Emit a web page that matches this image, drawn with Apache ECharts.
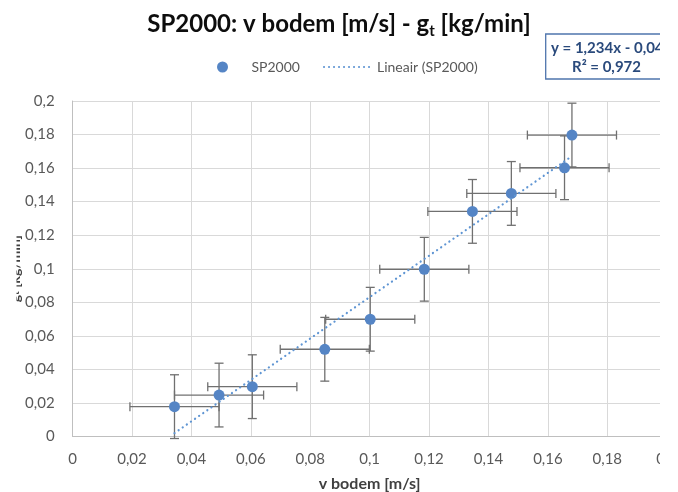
<!DOCTYPE html>
<html>
<head>
<meta charset="utf-8">
<script src="https://cdn.jsdelivr.net/npm/echarts@6/dist/echarts.min.js"></script>
<style>html,body{margin:0;padding:0;background:#fff}#c{width:678px;height:492px}</style>
</head>
<body>
<div id="c"></div>
<script>
// ---- data ----
const seriesName = 'SP2000';
const trendName = 'Lineair (SP2000)';
const xValues = [0.0343, 0.0493, 0.0605, 0.0849, 0.1002, 0.1184, 0.1346, 0.1477, 0.1656, 0.1681];
const yValues = [0.0178, 0.0247, 0.0297, 0.0520, 0.0699, 0.0997, 0.1342, 0.1449, 0.1602, 0.1797];
const xErrors = [0.015, 0.015, 0.015, 0.015, 0.015, 0.015, 0.015, 0.015, 0.015, 0.015];
const yErrors = [0.019, 0.019, 0.019, 0.019, 0.019, 0.019, 0.019, 0.019, 0.019, 0.019];
const trendSlope = 1.234;
const trendIntercept = -0.0403;
const equationLines = ['y = 1,234x - 0,040', 'R² = 0,972'];
const xTicks = {min: 0, max: 0.2, interval: 0.02};
const yTicks = {min: 0, max: 0.2, interval: 0.02};

const FONT = "Lato, 'Open Sans', sans-serif";
const points = xValues.map((x, i) => [x, yValues[i]]);
const errData = xValues.map((x, i) => [x, yValues[i], xErrors[i], yErrors[i]]);
const xMin = Math.min(...xValues), xMax = Math.max(...xValues);
const trendData = [[xMin, trendSlope * xMin + trendIntercept], [xMax, trendSlope * xMax + trendIntercept]];
const fmt = v => String(+v.toFixed(4)).replace('.', ',');

const chart = echarts.init(document.getElementById('c'), null, {renderer: 'canvas'});
chart.setOption({
  animation: false,
  backgroundColor: '#ffffff',
  textStyle: {fontFamily: FONT},
  title: {
    text: 'SP2000: v bodem [m/s] - g{s|t} [kg/min]',
    left: 'center',
    top: 5,
    textStyle: {
      fontFamily: FONT, fontSize: 24, fontWeight: 'bold', color: '#0d0d0d',
      rich: {s: {fontFamily: FONT, fontSize: 15, fontWeight: 'bold', color: '#0d0d0d', padding: [14, 0, 0, 0]}}
    }
  },
  legend: {
    left: 212, top: 55,
    itemWidth: 48, itemHeight: 11, itemGap: 23,
    textStyle: {fontFamily: FONT, fontSize: 14, color: '#595959'},
    data: [seriesName, {name: trendName, itemStyle: {opacity: 0}}]
  },
  grid: {left: 72.6, right: 11.3, top: 101, bottom: 55.5, containLabel: false, outerBoundsMode: 'none'},
  xAxis: {
    type: 'value', min: xTicks.min, max: xTicks.max, interval: xTicks.interval,
    name: 'v bodem [m/s]', nameLocation: 'middle', nameGap: 39, nameMoveOverlap: false,
    nameTextStyle: {fontFamily: FONT, fontSize: 16, fontWeight: 'bold', color: '#404040'},
    axisLine: {lineStyle: {color: '#bfbfbf', width: 1}},
    axisTick: {show: false},
    axisLabel: {formatter: fmt, fontFamily: FONT, fontSize: 15, color: '#595959', margin: 15},
    splitLine: {lineStyle: {color: '#d9d9d9', width: 1}}
  },
  yAxis: {
    type: 'value', min: yTicks.min, max: yTicks.max, interval: yTicks.interval,
    name: 'g{s|t} [kg/min]', nameLocation: 'middle', nameGap: 50, nameRotate: 90, nameMoveOverlap: false,
    nameTextStyle: {fontFamily: FONT, fontSize: 14, fontWeight: 'bold', color: '#404040',
      rich: {s: {fontFamily: FONT, fontSize: 10, fontWeight: 'bold', color: '#404040'}}},
    axisLine: {show: true, lineStyle: {color: '#bfbfbf', width: 1}},
    axisTick: {show: false},
    axisLabel: {formatter: fmt, fontFamily: FONT, fontSize: 15, color: '#595959', margin: 18},
    splitLine: {lineStyle: {color: '#d9d9d9', width: 1}}
  },
  series: [
    {
      type: 'custom', name: 'errors', silent: true, z: 3,
      data: errData,
      renderItem: function (params, api) {
        const x = api.value(0), y = api.value(1), ex = api.value(2), ey = api.value(3);
        const l = api.coord([x - ex, y]), r = api.coord([x + ex, y]);
        const t = api.coord([x, y + ey]), b = api.coord([x, y - ey]);
        const cap = 4.5;
        const st = {stroke: '#707070', lineWidth: 1.3};
        const ln = (x1, y1, x2, y2) => ({type: 'line', shape: {x1, y1, x2, y2}, style: st});
        return {type: 'group', children: [
          ln(l[0], l[1], r[0], r[1]),
          ln(l[0], l[1] - cap, l[0], l[1] + cap),
          ln(r[0], r[1] - cap, r[0], r[1] + cap),
          ln(t[0], t[1], b[0], b[1]),
          ln(t[0] - cap, t[1], t[0] + cap, t[1]),
          ln(b[0] - cap, b[1], b[0] + cap, b[1])
        ]};
      }
    },
    {
      type: 'scatter', name: seriesName, z: 4,
      data: points, symbol: 'circle', symbolSize: 11,
      itemStyle: {color: '#5585c5', opacity: 1}
    },
    {
      type: 'line', name: trendName, z: 5,
      data: trendData, symbol: 'none', showSymbol: false,
      lineStyle: {color: '#5f95d3', width: 2.2, type: [0.1, 4.9], cap: 'round'},
      itemStyle: {color: '#5f95d3'}
    }
  ],
  graphic: [
    {type: 'rect', z: 90, shape: {x: 545.7, y: 34, width: 122, height: 45},
      style: {fill: '#ffffff', stroke: '#4f75ad', lineWidth: 1.3}},
    {type: 'text', z: 91, x: 551, y: 47.7,
      style: {text: equationLines[0], font: "bold 15px " + FONT, fill: '#2a4a7c', textAlign: 'left', textVerticalAlign: 'middle'}},
    {type: 'text', z: 91, x: 606.5, y: 66.7,
      style: {text: equationLines[1], font: "bold 15px " + FONT, fill: '#2a4a7c', textAlign: 'center', textVerticalAlign: 'middle'}},
    // chart area edges of the cropped original
    {type: 'rect', z: 100, shape: {x: 660, y: 0, width: 18, height: 492}, style: {fill: '#ffffff'}},
    {type: 'rect', z: 100, shape: {x: 0, y: 0, width: 16.5, height: 492}, style: {fill: '#ffffff'}}
  ]
});
</script>
</body>
</html>
